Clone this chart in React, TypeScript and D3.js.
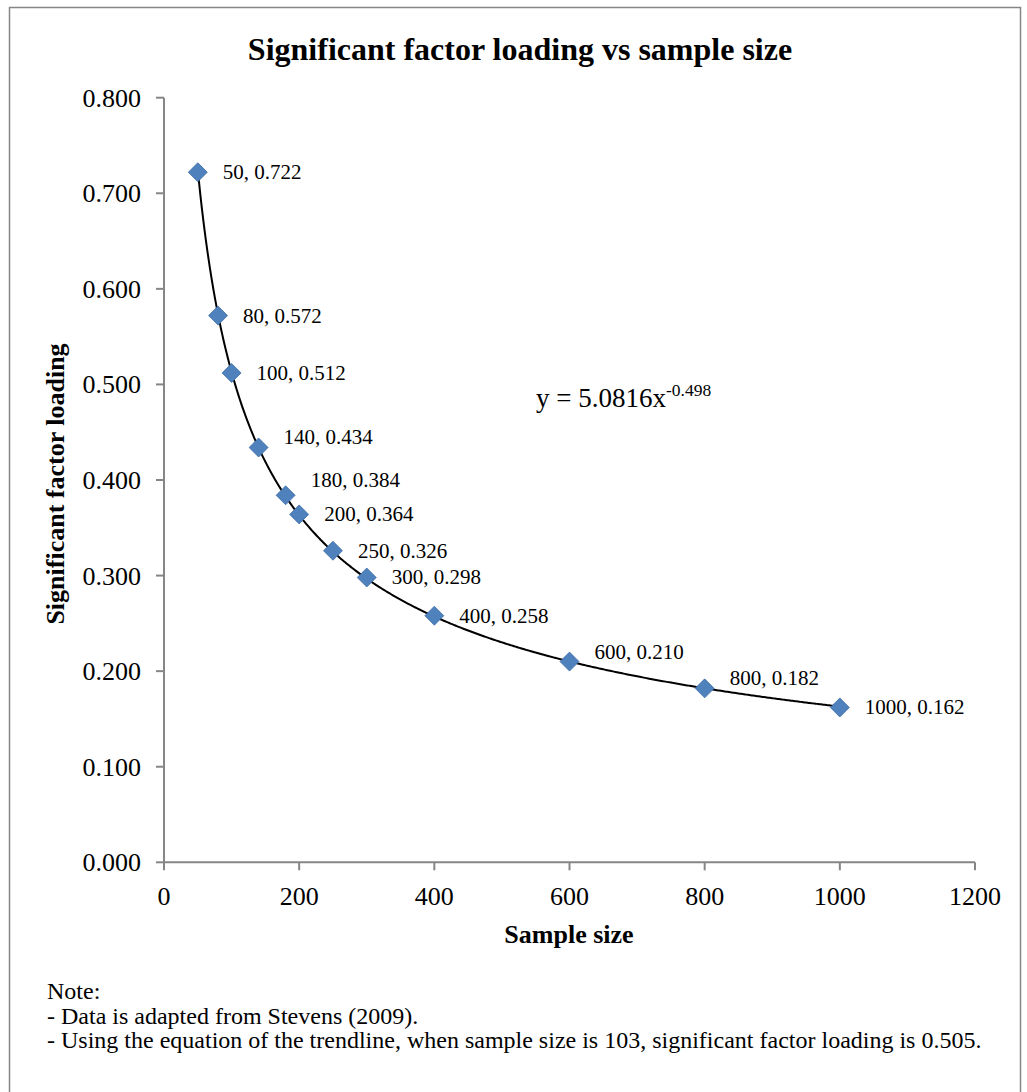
import React from "react";
import * as d3 from "d3";

const sampleSizes = [50, 80, 100, 140, 180, 200, 250, 300, 400, 600, 800, 1000];
const loadings = [0.722, 0.572, 0.512, 0.434, 0.384, 0.364, 0.326, 0.298, 0.258, 0.21, 0.182, 0.162];
const xTicks = [0, 200, 400, 600, 800, 1000, 1200];
const yTicks = [0, 0.1, 0.2, 0.3, 0.4, 0.5, 0.6, 0.7, 0.8];
const trendCoef = 5.0816;
const trendExp = -0.498;
const titleText = "Significant factor loading vs sample size";
const xTitle = "Sample size";
const yTitle = "Significant factor loading";
const noteLines = [
  "Note:",
  "- Data is adapted from Stevens (2009).",
  "- Using the equation of the trendline, when sample size is 103, significant factor loading is 0.505.",
];
// layout: vertical nudge of each data label (px)
const labelNudge = [0, 0, 0, -11, -15, 0, 0, 0, 0, -10, -10, 0];

const W = 1027;
const H = 1092;
const FONT = "'Liberation Serif', 'Times New Roman', serif";

export default function App() {
  const x = d3.scaleLinear().domain([0, 1200]).range([164, 975]);
  const y = d3.scaleLinear().domain([0, 0.8]).range([862.3, 97.7]);
  const axisColor = "#868686";

  const trendPts = d3.range(50, 1000.5, 2).map((v) => [v, trendCoef * Math.pow(v, trendExp)] as [number, number]);
  const line = d3
    .line<[number, number]>()
    .x((d) => x(d[0]))
    .y((d) => y(d[1]))
    .curve(d3.curveLinear);

  const fmt = d3.format(".3f");
  const x0 = x(0);
  const y0 = y(0);

  return (
    <svg width={W} height={H} style={{ position: "absolute", left: 0, top: 0 }} fontFamily={FONT}>
      <rect x={0} y={0} width={W} height={H} fill="#fff" />
      <rect x={9.5} y={7.5} width={1011} height={1100} fill="none" stroke={axisColor} strokeWidth={1.5} />
      <text x={520} y={60} textAnchor="middle" fontSize={32} fontWeight="bold">
        {titleText}
      </text>
      {/* y axis */}
      <line x1={x0} x2={x0} y1={y(0.8)} y2={y0} stroke={axisColor} strokeWidth={2} />
      {yTicks.map((t) => (
        <g key={t}>
          <line x1={x0 - 8} x2={x0} y1={y(t)} y2={y(t)} stroke={axisColor} strokeWidth={2} />
          <text x={141} y={y(t) + 9} textAnchor="end" fontSize={26}>
            {fmt(t)}
          </text>
        </g>
      ))}
      {/* x axis */}
      <line x1={x0} x2={x(1200)} y1={y0} y2={y0} stroke={axisColor} strokeWidth={2} />
      {xTicks.map((t) => (
        <g key={t}>
          <line x1={x(t)} x2={x(t)} y1={y0} y2={y0 + 8} stroke={axisColor} strokeWidth={2} />
          <text x={x(t)} y={905} textAnchor="middle" fontSize={26}>
            {t}
          </text>
        </g>
      ))}
      <text x={569} y={943} textAnchor="middle" fontSize={26} fontWeight="bold">
        {xTitle}
      </text>
      <text
        transform={`translate(64, ${(y(0.8) + y0) / 2 + 4}) rotate(-90)`}
        textAnchor="middle"
        fontSize={26}
        fontWeight="bold"
      >
        {yTitle}
      </text>
      {/* trendline */}
      <path d={line(trendPts) || ""} fill="none" stroke="#000" strokeWidth={2} />
      {/* markers */}
      {sampleSizes.map((s, i) => {
        const cx = x(s);
        const cy = y(loadings[i]);
        const r = 9.5;
        return (
          <path
            key={s}
            d={`M${cx},${cy - r}L${cx + r},${cy}L${cx},${cy + r}L${cx - r},${cy}Z`}
            fill="#4F81BD"
            stroke="#3F6FA8"
            strokeWidth={0.8}
          />
        );
      })}
      {/* data labels */}
      {sampleSizes.map((s, i) => (
        <text key={"l" + s} x={x(s) + 25} y={y(loadings[i]) + 7 + labelNudge[i]} fontSize={21}>
          {`${s}, ${fmt(loadings[i])}`}
        </text>
      ))}
      {/* equation */}
      <text x={536} y={407} fontSize={27}>
        {`y = ${trendCoef}x`}
        <tspan dy={-11} fontSize={17.5}>
          {trendExp}
        </tspan>
      </text>
      {/* notes */}
      {noteLines.map((l, i) => (
        <text key={i} x={47} y={999 + i * 24.5} fontSize={24}>
          {l}
        </text>
      ))}
    </svg>
  );
}
